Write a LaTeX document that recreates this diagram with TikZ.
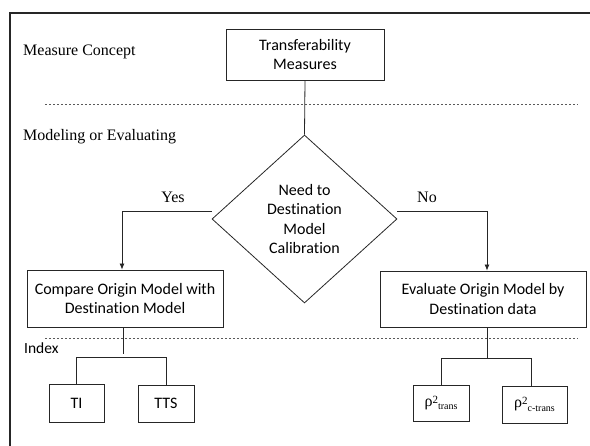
\documentclass[tikz,border=0pt]{standalone}
\usepackage{fontspec}
\setmainfont{Liberation Serif}
\newfontfamily\calfont[Ligatures={NoCommon}]{Carlito}
\usetikzlibrary{shapes.geometric,arrows.meta}
\begin{document}
\begin{tikzpicture}[x=1pt,y=-1pt,
  box/.style={draw=black!85, line width=0.8pt, inner sep=0pt, align=center,
    font=\calfont\fontsize{16}{19.3}\selectfont},
  rhobox/.style={box, font=\rmfamily\fontsize{16}{19}\selectfont},
  lbl/.style={inner sep=0pt, font=\rmfamily\fontsize{16}{19}\selectfont},
  idx/.style={inner sep=0pt, font=\calfont\fontsize{15.5}{19}\selectfont},
  link/.style={draw=black!85, line width=0.8pt},
  arr/.style={link, -{Latex[length=6pt,width=5pt]}},
  sepline/.style={draw=black!65, line width=0.6pt, dash pattern=on 2pt off 2pt},
  framel/.style={draw=black!85, line width=2.5pt}]
\useasboundingbox (0,0) rectangle (590,446);
% frame
\coordinate (fbl) at (10,447);
\coordinate (ftl) at (10,13);
\coordinate (ftr) at (591,13);
\draw[framel] (fbl) -- (ftl) -- (ftr);
% separators
\coordinate (s1a) at (45,104);
\coordinate (s1b) at (578,104);
\coordinate (s2a) at (45,338);
\coordinate (s2b) at (578,338);
\draw[sepline] (s1a) -- (s1b);
\draw[sepline] (s2a) -- (s2b);
% section labels
\node[lbl, anchor=base west] (mc) at (23,55.5) {Measure Concept};
\node[lbl, anchor=base west] (me) at (23,140.5) {Modeling or Evaluating};
\node[idx, anchor=base west] (ix) at (24,354) {Index};
% nodes
\node[box, minimum width=158pt, minimum height=51pt] (tm) at (305,54.5) {Transferability\\Measures};
\node[box, shape=diamond, minimum width=185pt, minimum height=168pt] (dia) at (304.5,219) {Need to\\Destination\\Model\\Calibration};
\node[box, minimum width=196pt, minimum height=57pt] (cmp) at (125,298.5) {Compare Origin Model with\\Destination Model};
\node[box, minimum width=206pt, minimum height=56pt] (evl) at (483,299) {Evaluate Origin Model by\\Destination data};
\node[box, minimum width=55pt, minimum height=38pt] (ti) at (76.5,403) {TI};
\node[box, minimum width=56pt, minimum height=37pt] (tts) at (166,403.5) {TTS};
\node[rhobox, minimum width=56pt, minimum height=36pt] (r1) at (441,403)
  {ρ\raisebox{3pt}{\fontsize{11}{11}\selectfont 2}\raisebox{-3.5pt}{\fontsize{10}{10}\selectfont trans}};
\node[rhobox, minimum width=65pt, minimum height=37pt] (r2) at (534.5,404.5)
  {ρ\raisebox{3pt}{\fontsize{11}{11}\selectfont 2}\raisebox{-3.5pt}{\fontsize{10}{10}\selectfont c-trans}};
% connectors
\draw[link] (tm.south) -- (dia.north);
\draw[arr] ([yshift=8pt]dia.west) -| ([xshift=-3pt]cmp.north);
\draw[arr] ([yshift=8pt]dia.east) -| ([xshift=4pt]evl.north);
\node[lbl, anchor=base] (yes) at (173,203) {Yes};
\node[lbl, anchor=base] (no) at (427,203) {No};
\draw[link] ([xshift=-2pt]cmp.south) -- ++(0,27);
\draw[link] (ti.north) -- ++(0,-26) -| (tts.north);
\draw[link] ([xshift=4pt]evl.south) -- ++(0,32);
\draw[link] (r1.north) -- ++(0,-26) -| ([xshift=-3.5pt]r2.north);
\end{tikzpicture}
\end{document}
